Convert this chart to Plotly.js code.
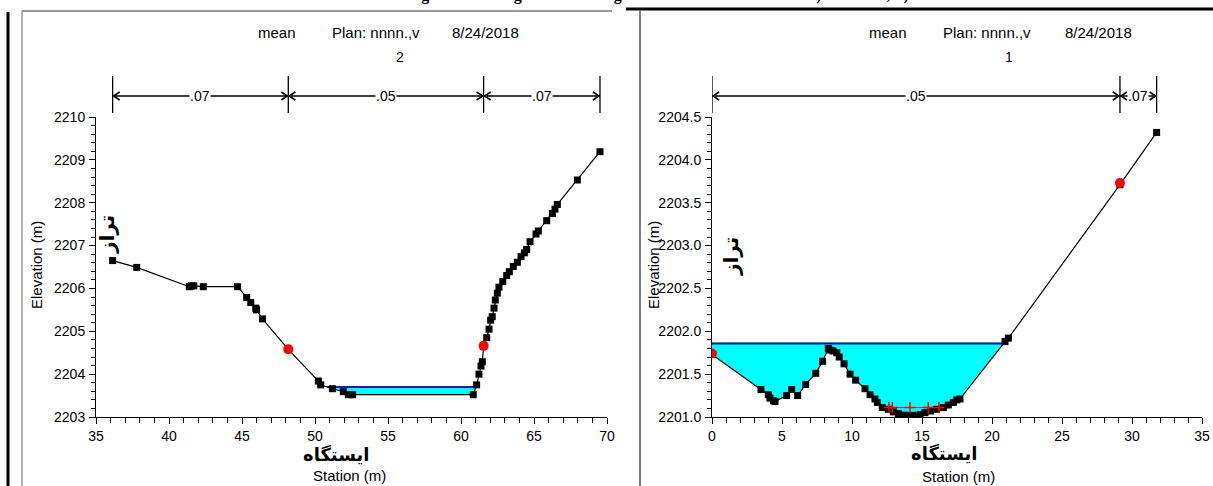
<!DOCTYPE html>
<html><head><meta charset="utf-8">
<script src="https://cdn.plot.ly/plotly-3.0.1.min.js"></script>
<style>html,body{margin:0;padding:0;background:#fff;}#chart{width:1213px;height:486px;}</style>
</head><body><div id="chart"></div>
<script>
// ---------- Data: cross section 2 (left panel) ----------
const leftStation = [36.14, 37.79, 41.39, 41.55, 41.70, 42.35, 44.70, 45.32, 45.60, 45.94, 46.00, 46.40, 48.17, 50.23, 50.39, 51.19, 51.94, 52.28, 52.58, 60.84, 61.07, 61.23, 61.37, 61.46, 61.55, 61.76, 61.92, 62.03, 62.14, 62.26, 62.35, 62.49, 62.60, 62.86, 63.13, 63.31, 63.58, 63.86, 64.11, 64.34, 64.50, 64.73, 65.14, 65.30, 65.87, 66.26, 66.44, 66.60, 67.97, 69.52];
const leftElev = [2206.65, 2206.49, 2206.04, 2206.06, 2206.06, 2206.04, 2206.04, 2205.79, 2205.67, 2205.54, 2205.50, 2205.29, 2204.58, 2203.84, 2203.75, 2203.66, 2203.59, 2203.52, 2203.52, 2203.52, 2203.75, 2204.00, 2204.19, 2204.29, 2204.66, 2204.85, 2205.05, 2205.26, 2205.34, 2205.54, 2205.73, 2205.89, 2206.03, 2206.16, 2206.30, 2206.39, 2206.51, 2206.61, 2206.74, 2206.83, 2206.91, 2207.09, 2207.27, 2207.34, 2207.58, 2207.75, 2207.85, 2207.96, 2208.53, 2209.19];
const leftBankStation = [48.17, 61.55];
const leftBankElev = [2204.58, 2204.66];
const leftWS = 2203.70;
const leftN = ['.07', '.05', '.07'];
const leftSectionLabel = '2';

// ---------- Data: cross section 1 (right panel) ----------
const rightStation = [0.00, 3.50, 4.02, 4.14, 4.38, 4.50, 5.33, 5.69, 6.12, 6.69, 7.41, 7.90, 8.31, 8.48, 8.66, 8.91, 9.09, 9.43, 9.86, 10.26, 10.93, 11.29, 11.64, 11.81, 12.16, 12.59, 12.95, 13.31, 13.66, 13.90, 14.34, 14.62, 14.86, 15.21, 15.62, 16.05, 16.52, 16.88, 17.24, 17.48, 17.71, 20.93, 21.17, 29.14, 31.76];
const rightElev = [2201.73, 2201.32, 2201.26, 2201.22, 2201.19, 2201.18, 2201.25, 2201.32, 2201.25, 2201.38, 2201.51, 2201.65, 2201.80, 2201.78, 2201.77, 2201.75, 2201.70, 2201.62, 2201.50, 2201.43, 2201.33, 2201.26, 2201.21, 2201.17, 2201.11, 2201.09, 2201.06, 2201.04, 2201.02, 2201.02, 2201.02, 2201.00, 2201.03, 2201.05, 2201.07, 2201.09, 2201.11, 2201.14, 2201.17, 2201.20, 2201.21, 2201.88, 2201.92, 2203.71, 2204.32];
const rightBankStation = [0.00, 29.14];
const rightBankElev = [2201.74, 2203.73];
const rightWS = 2201.86;
const rightEG = 2201.87;
const rightCrossStation = [12.64, 12.88, 14.14, 15.45, 16.21];
const rightCrossElev = [2201.11, 2201.11, 2201.11, 2201.11, 2201.11];
const rightN = ['.05', '.07'];
const rightSectionLabel = '1';

// ---------- Text ----------
const titleWords = ['mean', 'Plan: nnnn.,v', '8/24/2018'];
const yTitle = 'Elevation (m)';
const xTitle = 'Station (m)';
const yTitleFa = 'تراز';
const xTitleFa = 'ایستگاه';
const caption = 'Fig. 7- Flow diagram according to the date of observation: a) Station 2, b) Station 1';

const W = 1213, H = 486;
const px = v => v / W, py = v => (H - v) / H;
const fontN = 'Liberation Sans, Arial, sans-serif';
const fontR = 'Liberation Sans, Arial, sans-serif';
const fontFa = 'DejaVu Sans, Noto Sans, sans-serif';

function waterPoly(xs, es, ws) {
  const X = [], Y = [];
  let xa = null, xb = null;
  const n = xs.length;
  for (let i = 0; i < n; i++) {
    if (es[i] <= ws) {
      if (X.length === 0) {
        if (i === 0) { xa = xs[0]; }
        else { const t = (es[i-1] - ws) / (es[i-1] - es[i]); xa = xs[i-1] + t * (xs[i] - xs[i-1]); }
        X.push(xa); Y.push(ws);
      }
      X.push(xs[i]); Y.push(es[i]);
      if (i === n - 1) { xb = xs[i]; X.push(xb); Y.push(ws); break; }
      if (es[i+1] > ws) {
        const t = (ws - es[i]) / (es[i+1] - es[i]);
        xb = xs[i] + t * (xs[i+1] - xs[i]);
        X.push(xb); Y.push(ws); break;
      }
    }
  }
  return {x: X, y: Y, xa: xa, xb: xb};
}

const traces = [];
const shapes = [];
const annotations = [];

function addSection(xs, es, bankX, bankY, ws, xa, ya, wsColor) {
  const p = waterPoly(xs, es, ws);
  traces.push({x: p.x, y: p.y, xaxis: xa, yaxis: ya, mode: 'lines', fill: 'toself',
    fillcolor: '#00ffff', line: {width: 0, color: '#00ffff'}, hoverinfo: 'skip'});
  traces.push({x: [p.xa, p.xb], y: [ws, ws], xaxis: xa, yaxis: ya, mode: 'lines',
    line: {color: wsColor, width: 2.2}, hoverinfo: 'skip'});
  traces.push({x: xs, y: es, xaxis: xa, yaxis: ya, mode: 'lines+markers',
    line: {color: '#000', width: 1.2}, marker: {symbol: 'square', size: 7, color: '#000'}});
  traces.push({x: bankX, y: bankY, xaxis: xa, yaxis: ya, mode: 'markers',
    marker: {symbol: 'circle', size: 10, color: '#ff0000', line: {width: 0}}});
  return p;
}

addSection(leftStation, leftElev, leftBankStation, leftBankElev, leftWS, 'x', 'y', '#1a1ab8');
const pr = addSection(rightStation, rightElev, rightBankStation, rightBankElev, rightWS, 'x2', 'y2', '#0000ee');
traces.splice(traces.length - 2, 0, {x: [pr.xa, pr.xb], y: [rightEG, rightEG], xaxis: 'x2', yaxis: 'y2', mode: 'lines',
  line: {color: '#33bb33', width: 1}, hoverinfo: 'skip'});
traces.push({x: rightCrossStation, y: rightCrossElev, xaxis: 'x2', yaxis: 'y2', mode: 'lines+markers',
  line: {color: '#c03030', width: 1}, marker: {symbol: 'cross-thin', size: 8, color: '#ff0000', line: {color: '#ff0000', width: 1.5}}});

// Manning's n arrows
const arrowY = py(96), barTop = py(76), barBot = py(113);
function addNArrows(xs, bankX, nLabels, xref) {
  let b = [xs[0], bankX[0], bankX[1], xs[xs.length - 1]];
  b = b.filter((v, i) => i === 0 || v !== b[i-1]);
  b.forEach(v => shapes.push({type: 'line', xref: xref, yref: 'paper', x0: v, x1: v, y0: barBot, y1: barTop,
    line: {color: '#000', width: 1.3}}));
  for (let i = 0; i < b.length - 1; i++) {
    shapes.push({type: 'line', xref: xref, yref: 'paper', x0: b[i], x1: b[i+1], y0: arrowY, y1: arrowY,
      line: {color: '#000', width: 1.3}});
    shapes.push({type: 'path', xref: xref, yref: 'paper', xsizemode: 'pixel', ysizemode: 'pixel',
      xanchor: b[i], yanchor: arrowY, path: 'M 7,4 L 1,0 L 7,-4', line: {color: '#000', width: 1.6}});
    shapes.push({type: 'path', xref: xref, yref: 'paper', xsizemode: 'pixel', ysizemode: 'pixel',
      xanchor: b[i+1], yanchor: arrowY, path: 'M -7,4 L -1,0 L -7,-4', line: {color: '#000', width: 1.6}});
    annotations.push({xref: xref, yref: 'paper', x: (b[i] + b[i+1]) / 2, y: arrowY, xanchor: 'center', yanchor: 'middle', text: nLabels[i],
      showarrow: false, bgcolor: '#fff', borderpad: 0, font: {family: fontN, size: 14, color: '#000'}});
  }
}
addNArrows(leftStation, leftBankStation, leftN, 'x');
addNArrows(rightStation, rightBankStation, rightN, 'x2');

function ann(x, y, text, font, extra) {
  annotations.push(Object.assign({xref: 'paper', yref: 'paper', x: px(x), y: py(y), xanchor: 'center', yanchor: 'middle',
    text: text, showarrow: false, font: font}, extra || {}));
}

// Titles
function addTitle(x0, xEnd, xLabel, label) {
  const f = {family: fontN, size: 15, color: '#000'};
  ann(x0, 33, titleWords[0], f, {xanchor: 'left'});
  ann(x0 + 74, 33, titleWords[1], f, {xanchor: 'left'});
  ann(xEnd, 33, titleWords[2], f, {xanchor: 'right'});
  ann(xLabel, 57, label, {family: fontN, size: 14, color: '#000'});
}
addTitle(256, 521, 400, leftSectionLabel);
addTitle(867, 1134, 1009, rightSectionLabel);

// Axis titles
function addAxisTitles(yx, yfx, yfy, xfx, xfy, sx, sy) {
  ann(yx, 265, yTitle, {family: fontR, size: 15, color: '#000'}, {textangle: -90});
  ann(yfx, yfy, yTitleFa, {family: fontFa, size: 20, color: '#000', weight: 'bold'}, {textangle: -90});
  ann(xfx, xfy, xTitleFa, {family: fontFa, size: 18, color: '#000', weight: 'bold'});
  ann(sx, sy, xTitle, {family: fontN, size: 15, color: '#000'});
}
addAxisTitles(36, 107, 235, 336, 454, 349, 475);
addAxisTitles(653, 731, 257, 944, 453, 958, 476);

// Caption cut at top edge
ann(690, 6, caption, {family: 'Liberation Serif, Times New Roman, serif', size: 16, color: '#000', weight: 'bold'}, {yanchor: 'bottom'});

// Page frame lines
shapes.push({type: 'line', xref: 'paper', yref: 'paper', x0: px(8), x1: px(8), y0: 0, y1: py(12), line: {color: '#000', width: 3}});
shapes.push({type: 'line', xref: 'paper', yref: 'paper', x0: px(22), x1: px(22), y0: 0, y1: py(11), line: {color: '#666', width: 1}});
shapes.push({type: 'line', xref: 'paper', yref: 'paper', x0: px(22), x1: px(612), y0: py(11), y1: py(11), line: {color: '#999', width: 2}});
shapes.push({type: 'line', xref: 'paper', yref: 'paper', x0: px(626), x1: 1, y0: py(9), y1: py(9), line: {color: '#000', width: 3}});
shapes.push({type: 'line', xref: 'paper', yref: 'paper', x0: px(640), x1: px(640), y0: 0, y1: py(11), line: {color: '#000', width: 1}});

function xAx(domain, range, tick0) {
  return {domain: domain, range: range, tickmode: 'linear', tick0: tick0, dtick: 5, ticks: 'outside', ticklen: 6, tickwidth: 1, tickcolor: '#000',
    minor: {dtick: 1, tick0: tick0, ticks: 'outside', ticklen: 5, tickwidth: 1, tickcolor: '#000', showgrid: false},
    showline: true, linecolor: '#000', linewidth: 1, showgrid: false, zeroline: false, fixedrange: true,
    tickfont: {family: fontN, size: 14, color: '#000'}};
}
function yAx(domain, range, dtick, mdt, fmt) {
  return {domain: domain, range: range, tickmode: 'linear', tick0: range[0], dtick: dtick, ticks: 'outside', ticklen: 6, tickwidth: 1, tickcolor: '#000',
    minor: {dtick: mdt, tick0: range[0], ticks: 'outside', ticklen: 4, tickwidth: 1, tickcolor: '#000', showgrid: false},
    showline: true, linecolor: '#000', linewidth: 1, showgrid: false, zeroline: false, fixedrange: true, tickformat: fmt, ticklabelstandoff: 1,
    tickfont: {family: fontN, size: 14, color: '#000'}};
}

const layout = {
  width: W, height: H, margin: {l: 0, r: 0, t: 0, b: 0}, paper_bgcolor: '#fff', plot_bgcolor: '#fff', showlegend: false,
  xaxis: Object.assign(xAx([px(96), px(607)], [35, 70], 35), {anchor: 'y'}),
  yaxis: Object.assign(yAx([py(417), py(117)], [2203, 2210], 1, 0.2, 'd'), {anchor: 'x'}),
  xaxis2: Object.assign(xAx([px(712), px(1202)], [0, 35], 0), {anchor: 'y2'}),
  yaxis2: Object.assign(yAx([py(417), py(117)], [2201, 2204.5], 0.5, 0.1, '.1f'), {anchor: 'x2'}),
  shapes: shapes, annotations: annotations
};
Plotly.newPlot('chart', traces, layout, {staticPlot: true, displayModeBar: false});
</script></body></html>
